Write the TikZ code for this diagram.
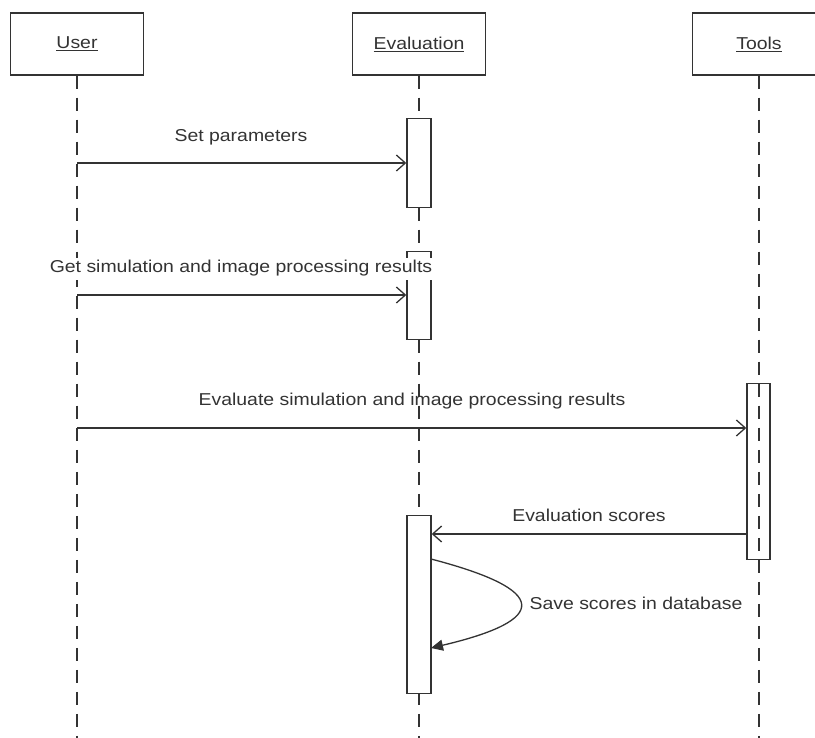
\documentclass[tikz,border=0pt]{standalone}
\usepackage{fontspec}
\setmainfont{Liberation Sans}[FakeStretch=1.13]
\usetikzlibrary{arrows.meta}
\definecolor{ink}{HTML}{333333}
\begin{document}
\begin{tikzpicture}[x=1pt,y=-1pt,
  font=\fontsize{17.2}{20}\selectfont, text=ink,
  actor/.style={draw=ink, line width=1.5pt, fill=white, minimum width=133pt,
    minimum height=62pt, inner sep=0pt},
  lifeline/.style={draw=ink, line width=1.4pt, dash pattern=on 13pt off 9pt},
  evbar/.style={draw=ink, line width=1.4pt, fill=white, minimum width=24pt,
    inner sep=0pt, anchor=north},
  toolbar/.style={draw=ink, line width=1.4pt, minimum width=23pt,
    inner sep=0pt, anchor=north},
  msg/.style={draw=ink, line width=1.3pt, -{Straight Barb[length=9pt,width=16pt,line width=1.3pt]}},
  selfmsg/.style={draw=ink, line width=1.3pt, -{Triangle[length=12pt,width=11pt]}},
  lbl/.style={anchor=base, inner sep=0pt}]

% page area
\fill[white] (0,0) rectangle (815,738);
\useasboundingbox (0,0) rectangle (815,738);
\clip (0,0) rectangle (815,738);

% participants
\node[actor] (user) at (77,44) {\underline{User}};
\node[actor] (eval) at (419,44) {\underline{Evaluation}};
\node[actor] (tools) at (759,44) {\underline{Tools}};

% lifeline ends
\coordinate (userEnd) at (77,738);
\coordinate (evalEnd) at (419,738);
\coordinate (toolsEnd) at (759,738);
\draw[lifeline] (user.south) -- (userEnd);
\draw[lifeline] (eval.south) -- (evalEnd);
\draw[lifeline] (tools.south) -- (toolsEnd);

% activation bars
\node[evbar, minimum height=89pt] (bar1) at (419,118) {};
\node[evbar, minimum height=88pt] (bar2) at (419,251) {};
\node[evbar, minimum height=178pt] (bar3) at (419,515) {};
\node[toolbar, minimum height=176pt] (tbar) at (758.5,383) {};

% message 1
\coordinate (m1) at (77,163);
\draw[msg] (m1) -- (m1 -| bar1.west);
\node[lbl] (t1) at (241,142) {Set parameters};

% message 2
\coordinate (m2) at (77,295);
\draw[msg] (m2) -- (m2 -| bar2.west);
\node[anchor=base, fill=white, inner xsep=0pt, inner ysep=3pt] (t2) at (241,273)
  {Get simulation and image processing results};

% message 3
\coordinate (m3) at (77,428);
\draw[msg] (m3) -- (m3 -| tbar.west);
\node[lbl] (t3) at (412,406) {Evaluate simulation and image processing results};

% message 4
\coordinate (m4) at (747,534);
\draw[msg] (m4) -- (m4 -| bar3.east);
\node[lbl] (t4) at (589,521) {Evaluation scores};

% self message
\coordinate (s1) at (431,559);
\coordinate (s2) at (431,648);
\draw[selfmsg] (s1) .. controls (550,590) and (550,620) .. (s2);
\node[lbl] (t5) at (636,609) {Save scores in database};
\end{tikzpicture}
\end{document}
